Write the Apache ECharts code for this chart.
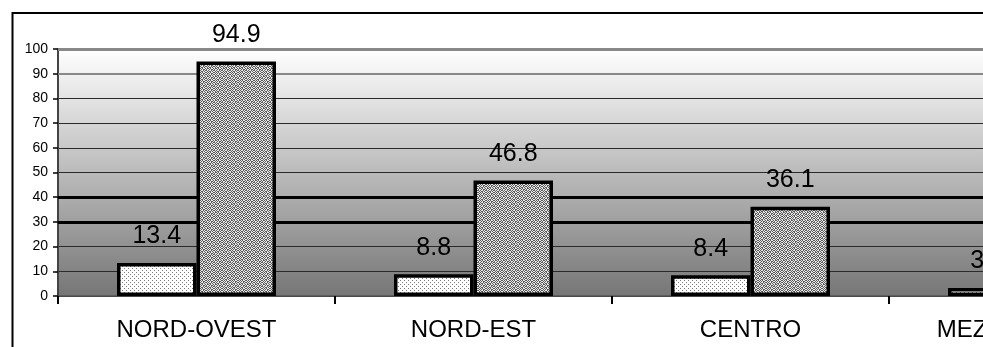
<!DOCTYPE html>
<html>
<head>
<meta charset="utf-8">
<script src="https://cdn.jsdelivr.net/npm/echarts@6/dist/echarts.min.js"></script>
<style>
html,body{margin:0;padding:0;background:#fff;overflow:hidden;width:983px;height:347px;}
#chart{width:1200px;height:347px;}
</style>
</head>
<body>
<div id="chart"></div>
<script>
// ---- data ----
const categories = ['NORD-OVEST', 'NORD-EST', 'CENTRO', 'MEZZOGIORNO'];
const series1 = [13.4, 8.8, 8.4, 3.2];
const series2 = [94.9, 46.8, 36.1, 22.5];
const yTicks = [0, 10, 20, 30, 40, 50, 60, 70, 80, 90, 100];

// ---- patterns (style only) ----
function makePattern(rows, bg, fg) {
  const h = rows.length, w = rows[0].length;
  const c = document.createElement('canvas');
  c.width = w; c.height = h;
  const ctx = c.getContext('2d');
  ctx.fillStyle = bg; ctx.fillRect(0, 0, w, h);
  ctx.fillStyle = fg;
  for (let y = 0; y < h; y++) for (let x = 0; x < w; x++) if (rows[y][x] === '1') ctx.fillRect(x, y, 1, 1);
  return c;
}
const pat1 = makePattern(['1000', '0000', '0010', '0000'], '#ffffff', '#7a7a7a');
const pat2 = makePattern(['10100110', '01011001', '10010110', '01101001', '10100101', '01011010', '10010110', '01101001'], '#e8e8e8', '#5a5a5a');

const chart = echarts.init(document.getElementById('chart'), null, {renderer: 'canvas', width: 1200, height: 347});
const font = 'Liberation Sans, Arial, sans-serif';

chart.setOption({
  animation: false,
  backgroundColor: '#ffffff',
  graphic: [{
    type: 'rect', z: 100,
    shape: {x: 12.5, y: 13, width: 2000, height: 2000},
    style: {fill: 'transparent', stroke: '#000', lineWidth: 2}
  }],
  grid: {
    left: 58, top: 49, bottom: 51, right: 34,
    show: true, borderWidth: 0, containLabel: false,
    backgroundColor: {
      type: 'linear', x: 0, y: 0, x2: 0, y2: 1,
      colorStops: [{offset: 0, color: '#ffffff'}, {offset: 1, color: '#767676'}]
    }
  },
  xAxis: {
    type: 'category',
    data: categories,
    axisLine: {show: true, lineStyle: {color: '#555', width: 1.5}},
    axisTick: {show: true, length: 8, lineStyle: {color: '#000', width: 2}},
    axisLabel: {fontSize: 24, color: '#000', fontFamily: font, margin: 22, interval: 0}
  },
  yAxis: {
    type: 'value', min: 0, max: 100, interval: 10,
    axisLine: {show: true, lineStyle: {color: '#444', width: 2}},
    axisTick: {show: true, length: 5, lineStyle: {color: '#000', width: 1.5}},
    axisLabel: {fontSize: 14, color: '#000', fontFamily: font, margin: 10},
    splitLine: {show: true, lineStyle: {color: '#2a2a2a', width: 1}}
  },
  series: [
    {
      type: 'bar', name: 's1', data: series1,
      barGap: 0, barCategoryGap: '42.6%',
      itemStyle: {color: {image: pat1, repeat: 'repeat'}, borderColor: '#000', borderWidth: 3.5},
      label: {show: true, position: 'top', distance: 14, fontSize: 25, color: '#000', fontFamily: font},
      markLine: {
        silent: true, symbol: 'none', label: {show: false},
        data: [
          {yAxis: 30, lineStyle: {color: '#000', width: 3, type: 'solid'}},
          {yAxis: 40, lineStyle: {color: '#000', width: 3, type: 'solid'}},
          {yAxis: 90, lineStyle: {color: '#888', width: 2, type: 'solid'}},
          {yAxis: 100, lineStyle: {color: '#888', width: 3, type: 'solid'}}
        ],
        z: 1
      },
      z: 3
    },
    {
      type: 'bar', name: 's2', data: series2,
      barGap: 0, barCategoryGap: '42.6%',
      itemStyle: {color: {image: pat2, repeat: 'repeat'}, borderColor: '#000', borderWidth: 3.5},
      label: {show: true, position: 'top', distance: 14, fontSize: 25, color: '#000', fontFamily: font},
      z: 3
    }
  ]
});
</script>
</body>
</html>
